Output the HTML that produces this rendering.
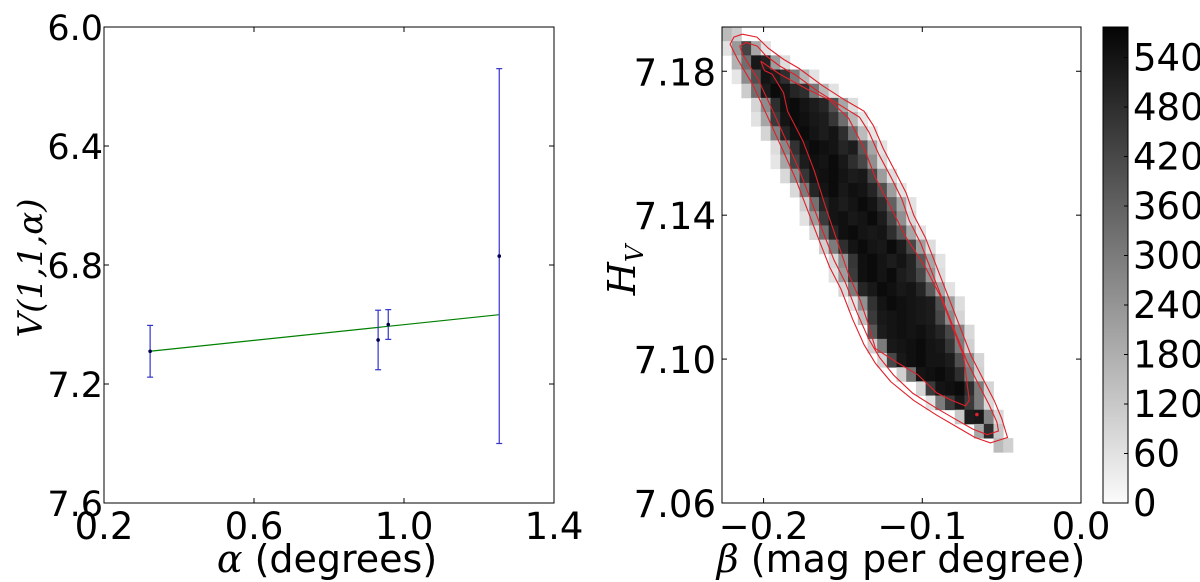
<!DOCTYPE html>
<html><head><meta charset="utf-8"><style>
body{margin:0;background:#fff;}
svg{display:block;}
text{font-family:"DejaVu Sans","Liberation Sans",sans-serif;fill:#000;}
.it{font-family:"DejaVu Serif","Liberation Serif",serif;font-style:italic;}
</style></head><body>
<svg id="fig" width="1200" height="582" viewBox="0 0 1200 582">
<g id="left"></g>
<g id="right"></g>
<g id="cbar"></g>
</svg>
<script>
// ---------- Left panel data ----------
const alphaVals = [0.323, 0.931, 0.958, 1.254];
const vVals = [7.09, 7.052, 7.0, 6.77];
const vErr = [0.087, 0.10, 0.05, 0.63];
const fitAlpha = [0.323, 1.254];
const fitV = [7.09, 6.967];
const leftXTicks = [0.2, 0.6, 1.0, 1.4];
const leftXTickLabels = ["0.2", "0.6", "1.0", "1.4"];
const leftYTicks = [6.0, 6.4, 6.8, 7.2, 7.6];
const leftYTickLabels = ["6.0", "6.4", "6.8", "7.2", "7.6"];

// ---------- Right panel data ----------
const betaTicks = [-0.2, -0.1, 0.0];
const betaTickLabels = ["\u22120.2", "\u22120.1", "0.0"];
const hTicks = [7.06, 7.10, 7.14, 7.18];
const hTickLabels = ["7.06", "7.10", "7.14", "7.18"];
const histBetaMin = -0.2262, histBetaStep = 0.00611;
const histHTop = 7.1923, histHStep = 0.00394;
const rowStarts = [0,0,1,1,2,3,3,4,5,5,6,7,8,8,9,10,11,11,12,13,14,15,15,16,18,20,21,24,26,28];
const rowCounts = [
[150,110],
[60,230,430,200,60],
[170,330,530,510,220,70],
[50,260,400,540,520,480,300,160,60],
[110,330,520,560,540,500,480,310,160,60],
[90,260,480,550,560,540,520,500,400,200,70],
[60,200,450,540,560,550,530,520,460,330,160,50],
[90,280,500,550,560,540,520,540,480,330,150,50],
[70,270,470,540,560,550,540,500,520,380,200,60],
[50,200,430,520,550,540,560,530,480,420,250,80],
[80,250,460,540,550,560,540,520,530,420,220,70],
[80,300,500,540,560,530,550,540,500,400,220,60],
[100,320,500,540,520,540,560,540,480,360,200,60],
[60,220,450,540,550,530,540,560,520,420,250,80],
[80,320,500,550,560,540,530,540,480,380,200,60],
[100,300,480,540,560,540,530,560,520,420,220,70],
[80,250,460,550,560,540,520,540,500,380,200,60],
[60,220,450,550,560,540,560,520,500,420,240,70],
[80,300,500,530,560,550,530,540,500,380,200,60],
[60,250,470,540,560,550,540,530,520,400,220,70],
[140,450,530,540,550,540,530,520,420,260,90],
[380,520,540,550,540,550,530,500,420,280,80],
[100,300,530,540,550,560,540,530,460,300,100],
[90,420,530,550,560,540,540,520,400,260,90],
[100,320,540,550,560,540,480,300,100],
[90,450,540,550,560,480,300,90],
[60,300,450,530,450,300,80],
[120,520,530,280,80],
[200,480,120],
[150,100]
];
const contourOuter = [[-0.2134,7.1903],[-0.2042,7.1895],[-0.1970,7.1864],[-0.1874,7.1833],[-0.1777,7.1808],[-0.1632,7.1761],[-0.1488,7.1720],[-0.1367,7.1689],[-0.1307,7.1648],[-0.1247,7.1586],[-0.1174,7.1524],[-0.1102,7.1462],[-0.1054,7.1400],[-0.0981,7.1338],[-0.0909,7.1256],[-0.0837,7.1174],[-0.0764,7.1091],[-0.0692,7.1009],[-0.0620,7.0947],[-0.0547,7.0885],[-0.0499,7.0834],[-0.0463,7.0782],[-0.0571,7.0767],[-0.0668,7.0782],[-0.0788,7.0813],[-0.0909,7.0844],[-0.1054,7.0885],[-0.1198,7.0937],[-0.1295,7.0988],[-0.1367,7.1040],[-0.1440,7.1112],[-0.1512,7.1194],[-0.1584,7.1256],[-0.1657,7.1338],[-0.1729,7.1421],[-0.1801,7.1504],[-0.1874,7.1576],[-0.1970,7.1669],[-0.2066,7.1761],[-0.2163,7.1833],[-0.2211,7.1875],[-0.2187,7.1895],[-0.2134,7.1903]];
const contourMid = [[-0.2110,7.1880],[-0.2040,7.1870],[-0.1990,7.1845],[-0.1900,7.1815],[-0.1800,7.1790],[-0.1660,7.1745],[-0.1515,7.1705],[-0.1395,7.1672],[-0.1335,7.1630],[-0.1275,7.1570],[-0.1200,7.1508],[-0.1130,7.1446],[-0.1082,7.1385],[-0.1010,7.1322],[-0.0938,7.1240],[-0.0866,7.1158],[-0.0793,7.1076],[-0.0720,7.0995],[-0.0648,7.0932],[-0.0578,7.0872],[-0.0530,7.0825],[-0.0520,7.0800],[-0.0590,7.0790],[-0.0680,7.0805],[-0.0800,7.0835],[-0.0920,7.0866],[-0.1060,7.0905],[-0.1180,7.0955],[-0.1270,7.1005],[-0.1340,7.1058],[-0.1412,7.1130],[-0.1484,7.1212],[-0.1556,7.1275],[-0.1628,7.1356],[-0.1700,7.1440],[-0.1772,7.1522],[-0.1845,7.1595],[-0.1940,7.1688],[-0.2035,7.1778],[-0.2130,7.1845],[-0.2150,7.1870],[-0.2110,7.1880]];
const contourInner = [[-0.2018,7.1828],[-0.1898,7.1792],[-0.1729,7.1751],[-0.1584,7.1720],[-0.1464,7.1669],[-0.1367,7.1586],[-0.1295,7.1504],[-0.1198,7.1421],[-0.1102,7.1338],[-0.0981,7.1256],[-0.0885,7.1174],[-0.0812,7.1091],[-0.0740,7.1009],[-0.0704,7.0885],[-0.0728,7.0870],[-0.0812,7.0885],[-0.0909,7.0906],[-0.1030,7.0957],[-0.1150,7.0988],[-0.1295,7.1029],[-0.1343,7.1101],[-0.1391,7.1163],[-0.1464,7.1235],[-0.1536,7.1328],[-0.1608,7.1421],[-0.1681,7.1524],[-0.1753,7.1607],[-0.1849,7.1689],[-0.1874,7.1740],[-0.1946,7.1792],[-0.1994,7.1802],[-0.2018,7.1828]];
const peakPoint = [-0.0656, 7.0846];
const cbarTicks = [0,60,120,180,240,300,360,420,480,540];
const cbarTickLabels = ["0","60","120","180","240","300","360","420","480","540"];
const cbarMax = 577;

const NS = "http://www.w3.org/2000/svg";
function mk(tag, attrs, parent){const e=document.createElementNS(NS,tag);for(const k in attrs)e.setAttribute(k,attrs[k]);parent.appendChild(e);return e;}

// ---------- Left panel ----------
const L = document.getElementById('left');
const lx0=104,lx1=554,ly0=27,ly1=503;
const lxs = v => lx0 + (v-0.2)/(1.2)*(lx1-lx0);
const lys = v => ly0 + (v-6.0)/(1.6)*(ly1-ly0);
let fitLine = mk('line',{x1:lxs(fitAlpha[0]),y1:lys(fitV[0]),x2:lxs(fitAlpha[1]),y2:lys(fitV[1]),stroke:'#008000','stroke-width':1.2},L);


alphaVals.forEach((a,i)=>{
  const g = mk('g',{},L);
  
  
  const x=lxs(a), yt=lys(vVals[i]-vErr[i]), yb=lys(vVals[i]+vErr[i]);
  mk('line',{x1:x,y1:yt,x2:x,y2:yb,stroke:'#3333cc','stroke-width':1.2},g);
  mk('line',{x1:x-3,y1:yt,x2:x+3,y2:yt,stroke:'#3333cc','stroke-width':1.2},g);
  mk('line',{x1:x-3,y1:yb,x2:x+3,y2:yb,stroke:'#3333cc','stroke-width':1.2},g);
  mk('circle',{cx:x,cy:lys(vVals[i]),r:1.8,fill:'#000050'},g);
});
let lframe = mk('rect',{x:lx0,y:ly0,width:lx1-lx0,height:ly1-ly0,fill:'none',stroke:'#000','stroke-width':1},L);


leftXTicks.forEach((t,i)=>{
  const x=lxs(t);
  mk('line',{x1:x,y1:ly1,x2:x,y2:ly1-5,stroke:'#000'},L);
  mk('line',{x1:x,y1:ly0,x2:x,y2:ly0+5,stroke:'#000'},L);
  const tx=mk('text',{x:x,y:ly1+36,'font-size':37,'text-anchor':'middle'},L);
  tx.textContent=leftXTickLabels[i];
  
  
});
leftYTicks.forEach((t,i)=>{
  const y=lys(t);
  mk('line',{x1:lx0,y1:y,x2:lx0+5,y2:y,stroke:'#000'},L);
  mk('line',{x1:lx1,y1:y,x2:lx1-5,y2:y,stroke:'#000'},L);
  const tx=mk('text',{x:lx0-1,y:y+13,'font-size':35,'text-anchor':'end'},L);
  tx.textContent=leftYTickLabels[i];
  
  
});
let lxt = mk('text',{x:327,y:572,'font-size':38,'text-anchor':'middle'},L);
lxt.innerHTML='<tspan font-family="DejaVu Serif, serif" font-style="italic">α</tspan> (degrees)';


let lyt = mk('text',{x:0,y:0,'font-size':34,'text-anchor':'middle',transform:'translate(42,268) rotate(-90)','class':'it'},L);
lyt.textContent='V(1,1,α)';



// ---------- Right panel ----------
const R = document.getElementById('right');
const rx0=722,rx1=1081,ry0=27,ry1=503;
const bMin=-0.2262,bMax=0.0,hMin=7.06,hMax=7.1923;
const rxs = v => rx0 + (v-bMin)/(bMax-bMin)*(rx1-rx0);
const rys = v => ry0 + (hMax-v)/(hMax-hMin)*(ry1-ry0);
const shade = v => {const c=Math.round(255*(1-Math.min(v,cbarMax)/cbarMax)*0.97+4);return `rgb(${c},${c},${c})`;};
rowCounts.forEach((row,r)=>{
  row.forEach((v,k)=>{
    const c=rowStarts[r]+k;
    const b0=histBetaMin+c*histBetaStep, h0=histHTop-r*histHStep;
    const x=rxs(b0), y=rys(h0);
    const cell=mk('rect',{x:x,y:y,width:rxs(b0+histBetaStep)-x+0.4,height:rys(h0-histHStep)-y+0.4,fill:shade(v)},R);
    
    
  });
});
function contour(pts,name){
  const p=mk('polyline',{points:pts.map(q=>rxs(q[0])+','+rys(q[1])).join(' '),fill:'none',stroke:'#e0202a','stroke-width':1.1},R);
  
  
}
contour(contourOuter,'contour-outer');
contour(contourMid,'contour-middle');
contour(contourInner,'contour-inner');
let pk=mk('circle',{cx:rxs(peakPoint[0]),cy:rys(peakPoint[1]),r:1.8,fill:'#e0202a'},R);


let rframe=mk('rect',{x:rx0,y:ry0,width:rx1-rx0,height:ry1-ry0,fill:'none',stroke:'#000','stroke-width':1},R);


betaTicks.forEach((t,i)=>{
  const x=rxs(t);
  mk('line',{x1:x,y1:ry1,x2:x,y2:ry1-5,stroke:'#000'},R);
  mk('line',{x1:x,y1:ry0,x2:x,y2:ry0+5,stroke:'#000'},R);
  const tx=mk('text',{x:x,y:ry1+36,'font-size':37,'text-anchor':'middle'},R);
  tx.textContent=betaTickLabels[i];
  
  
});
hTicks.forEach((t,i)=>{
  const y=rys(t);
  mk('line',{x1:rx0,y1:y,x2:rx0+5,y2:y,stroke:'#000'},R);
  mk('line',{x1:rx1,y1:y,x2:rx1-5,y2:y,stroke:'#000'},R);
  const tx=mk('text',{x:rx0-6,y:y+14,'font-size':37,'text-anchor':'end'},R);
  tx.textContent=hTickLabels[i];
  
  
});
let rxt=mk('text',{x:901,y:572,'font-size':38,'text-anchor':'middle'},R);
rxt.innerHTML='<tspan font-family="DejaVu Serif, serif" font-style="italic">β</tspan> (mag per degree)';


let ryt=mk('text',{x:0,y:0,'font-size':38,'text-anchor':'middle',transform:'translate(635,270) rotate(-90)','class':'it'},R);
ryt.innerHTML='H<tspan font-size="24" dy="8">V</tspan>';



// ---------- Colorbar ----------
const C=document.getElementById('cbar');
const cx0=1103,cx1=1128,cy0=27,cy1=503;
const cys = v => cy1 - v/cbarMax*(cy1-cy0);
const defs=mk('defs',{},C);
const grad=mk('linearGradient',{id:'cg',x1:0,y1:1,x2:0,y2:0},defs);
mk('stop',{offset:'0','stop-color':shade(0)},grad);
mk('stop',{offset:'0.5','stop-color':shade(cbarMax*0.5)},grad);
mk('stop',{offset:'1','stop-color':shade(cbarMax)},grad);
let cb=mk('rect',{x:cx0,y:cy0,width:cx1-cx0,height:cy1-cy0,fill:'url(#cg)',stroke:'#000','stroke-width':1},C);


cbarTicks.forEach((t,i)=>{
  const y=cys(t);
  mk('line',{x1:cx1,y1:y,x2:cx1-4,y2:y,stroke:'#000'},C);
  const tx=mk('text',{x:cx1+5,y:y+13,'font-size':37},C);
  tx.textContent=cbarTickLabels[i];
  
  
});
</script>
</body></html>
